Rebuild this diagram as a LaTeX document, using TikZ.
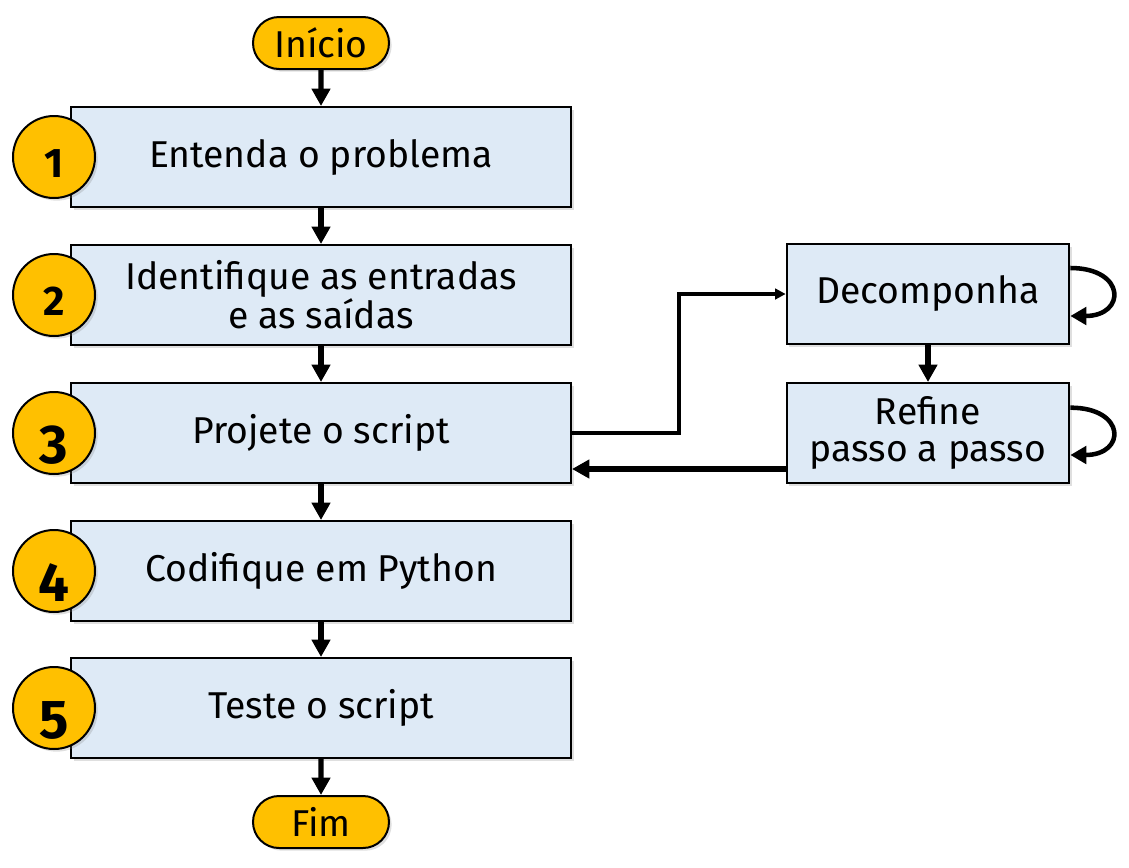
\documentclass[tikz,border=0pt]{standalone}
\usepackage{fontspec}
\setmainfont{Fira Sans}
\newfontfamily\numfont{Fira Sans Bold}
\usetikzlibrary{shadows,arrows.meta,shapes.misc}
\definecolor{boxblue}{HTML}{DEEAF6}
\definecolor{gold}{HTML}{FFC000}
\begin{document}
\begin{tikzpicture}[x=0.75pt,y=-0.75pt,
  shad/.style={drop shadow={opacity=0.25,shadow xshift=2pt,shadow yshift=-2pt}},
  stepbox/.style={draw,line width=1.5pt,fill=boxblue,minimum width=375pt,minimum height=75pt,
    inner sep=0pt,align=center,font=\fontsize{28}{28}\selectfont,shad},
  sidebox/.style={stepbox,minimum width=212pt},
  term/.style={draw,line width=1.5pt,fill=gold,rounded rectangle,minimum width=102pt,minimum height=39pt,
    inner sep=0pt,font=\fontsize{28}{28}\selectfont,shad},
  numc/.style={circle,draw,line width=1.5pt,fill=gold,minimum size=61.5pt,inner sep=0pt,shad},
  numsmall/.style={anchor=base,font=\numfont\fontsize{31}{32}\selectfont},
  numbig/.style={anchor=base,font=\numfont\fontsize{41}{42}\selectfont},
  arr/.style={line width=4pt,-{Triangle[length=13pt,width=13.5pt]}},
  thinarr/.style={line width=2.6pt,-{Triangle[length=8pt,width=8pt]}},
  looparr/.style={line width=3.4pt,-{Triangle[length=12pt,width=13pt]}}
]
\useasboundingbox (0,0) rectangle (1129,868);
\node[term] (ini) at (321,43) {Início};
\node[stepbox] (b1) at (321,157) {Entenda o problema};
\node[stepbox] (b2) at (321,295) {Identifique as entradas\\ e as saídas};
\node[stepbox] (b3) at (321,433) {Projete o script};
\node[stepbox] (b4) at (321,571) {Codifique em Python};
\node[stepbox] (b5) at (321,708) {Teste o script};
\node[term] (fim) at (321,822) {Fim};
\node[sidebox] (dec) at (928,294) {Decomponha};
\node[sidebox] (ref) at (928,433) {Refine\\ passo a passo};
\foreach \i/\y in {1/157,2/295,3/433,4/571,5/708}{
  \node[numc] (c\i) at (54,\y) {};
}
\node[numsmall] (n1) at (54,177) {1};
\node[numsmall] (n2) at (54,315) {2};
\node[numbig] (n3) at (54,463) {3};
\node[numbig] (n4) at (54,601) {4};
\node[numbig] (n5) at (54,738) {5};
\draw[arr] (ini) -- (b1);
\draw[arr] (b1) -- (b2);
\draw[arr] (b2) -- (b3);
\draw[arr] (b3) -- (b4);
\draw[arr] (b4) -- (b5);
\draw[arr] (b5) -- (fim);
\draw[arr] (dec) -- (ref);
\coordinate (bend) at (679,433);
\draw[thinarr] (b3.east) -- (bend) |- (dec.west);
\coordinate (back) at ([yshift=-27pt]ref.west);
\draw[arr] (back) -- (back -| b3.east);
\draw[looparr] ([yshift=19.5pt]dec.east) .. controls +(42pt,0) and +(42pt,0) .. ([yshift=-16.5pt]dec.east);
\draw[looparr] ([yshift=19pt]ref.east) .. controls +(42pt,0) and +(42pt,0) .. ([yshift=-16.5pt]ref.east);
\end{tikzpicture}
\end{document}
